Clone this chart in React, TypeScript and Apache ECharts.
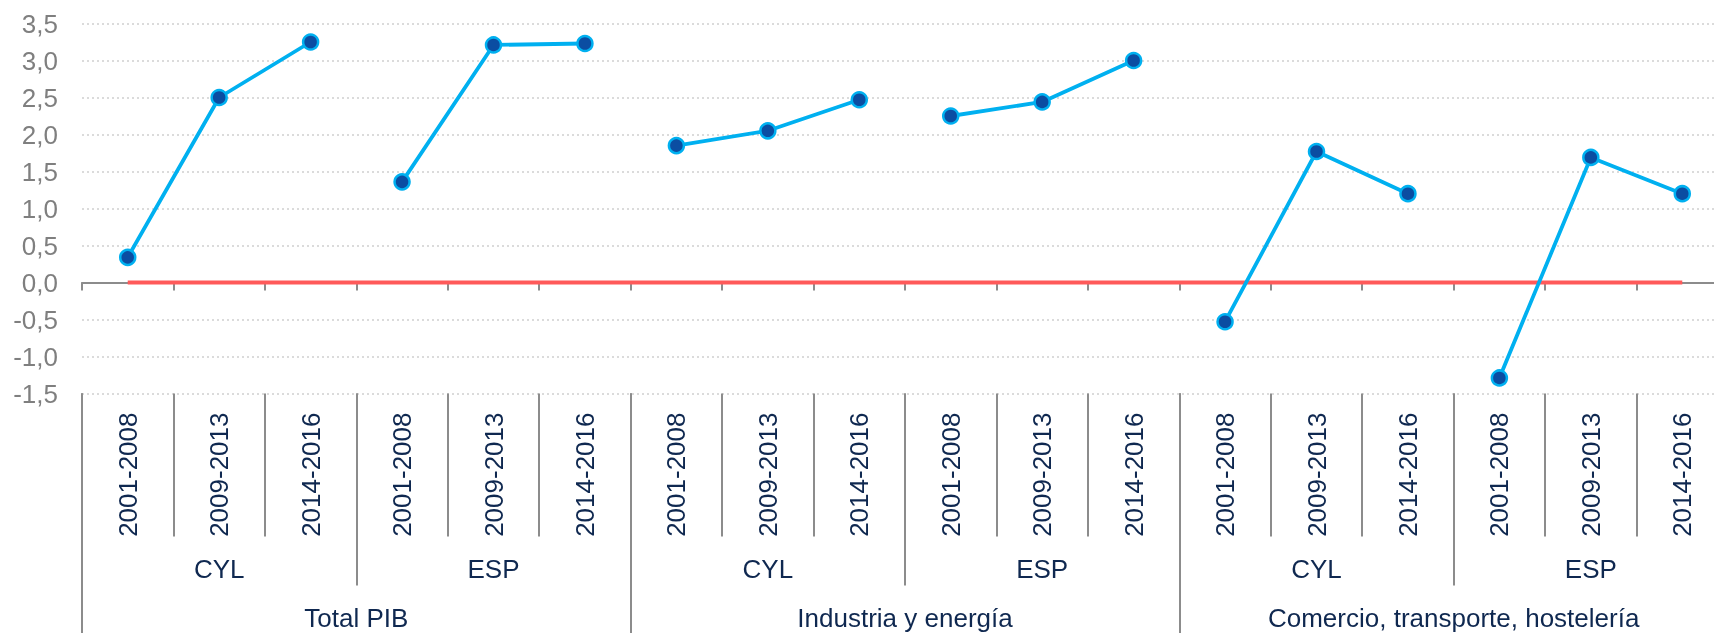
import React, { useEffect, useRef } from "react";
import * as echarts from "echarts";

const periods = ["2001-2008", "2009-2013", "2014-2016"];
const regions = ["CYL", "ESP"];
const sectors = ["Total PIB", "Industria y energía", "Comercio, transporte, hostelería"];

const totalPibCyl = [0.34, 2.5, 3.25];
const totalPibEsp = [1.36, 3.21, 3.23];
const industriaCyl = [1.85, 2.05, 2.47];
const industriaEsp = [2.25, 2.44, 3.0];
const comercioCyl = [-0.53, 1.77, 1.2];
const comercioEsp = [-1.29, 1.69, 1.2];

const yTicks = { min: -1.5, max: 3.5, interval: 0.5 };

const groupValues = [totalPibCyl, totalPibEsp, industriaCyl, industriaEsp, comercioCyl, comercioEsp];

const FONT = "'Liberation Sans', Arial, sans-serif";
const NAVY = "#0f2850";
const SEP = "#8c8c8c";

export default function App() {
  const ref = useRef<HTMLDivElement>(null);
  useEffect(() => {
    if (!ref.current) return;
    const chart = echarts.init(ref.current, undefined, { renderer: "svg" });

    const periodCats: string[] = [];
    const regionCats: string[] = [];
    sectors.forEach(() => {
      regions.forEach((r) => {
        regionCats.push(r);
        periods.forEach((p) => periodCats.push(p));
      });
    });
    const n = periodCats.length;

    const blueSeries = groupValues.map((vals, g) => {
      const data: (number | string)[] = new Array(n).fill("-");
      vals.forEach((v, i) => {
        data[g * periods.length + i] = v;
      });
      return {
        type: "line",
        xAxisIndex: 0,
        data,
        z: 4,
        symbol: "circle",
        symbolSize: 15,
        connectNulls: false,
        lineStyle: { color: "#00B0F0", width: 3.8 },
        itemStyle: { color: "#0B4DA2", borderColor: "#00B0F0", borderWidth: 2.5 },
        silent: true,
      };
    });

    const option: any = {
      animation: false,
      textStyle: { fontFamily: FONT },
      grid: { left: 82, top: 23.5, width: 1646, height: 370, containLabel: false, outerBoundsMode: "none" },
      xAxis: [
        {
          type: "category",
          data: periodCats,
          position: "bottom",
          boundaryGap: true,
          axisLine: { show: false, onZero: false },
          axisTick: { show: true, interval: 0, length: 143, lineStyle: { color: SEP, width: 2 } },
          axisLabel: { interval: 0, rotate: 90, margin: 19, fontSize: 26, color: NAVY, fontFamily: FONT },
          splitLine: { show: false },
        },
        {
          type: "category",
          data: periodCats,
          position: "bottom",
          boundaryGap: true,
          axisLine: { show: true, onZero: true, lineStyle: { color: SEP, width: 2 } },
          axisTick: { show: true, interval: 0, length: 8, lineStyle: { color: SEP, width: 2 } },
          axisLabel: { show: false },
          splitLine: { show: false },
        },
        {
          type: "category",
          data: regionCats,
          position: "bottom",
          boundaryGap: true,
          axisLine: { show: false, onZero: false },
          axisTick: { show: true, interval: 0, length: 192, lineStyle: { color: SEP, width: 2 } },
          axisLabel: { interval: 0, margin: 162, fontSize: 26, color: NAVY, fontFamily: FONT },
          splitLine: { show: false },
        },
        {
          type: "category",
          data: sectors,
          position: "bottom",
          boundaryGap: true,
          axisLine: { show: false, onZero: false },
          axisTick: { show: true, interval: 0, length: 260, lineStyle: { color: SEP, width: 2 } },
          axisLabel: { interval: 0, margin: 211, fontSize: 26, color: NAVY, fontFamily: FONT },
          splitLine: { show: false },
        },
      ],
      yAxis: {
        type: "value",
        min: yTicks.min,
        max: yTicks.max,
        interval: yTicks.interval,
        axisLine: { show: false },
        axisTick: { show: false },
        axisLabel: {
          margin: 24,
          fontSize: 26,
          color: "#7f7f7f",
          fontFamily: FONT,
          formatter: (v: number) => v.toFixed(1).replace(".", ","),
        },
        splitLine: { show: true, lineStyle: { color: "#cfcfcf", width: 1.5, type: [2, 3] } },
      },
      series: [
        {
          type: "line",
          xAxisIndex: 0,
          data: new Array(n).fill(0),
          symbol: "none",
          z: 3,
          lineStyle: { color: "#FF5A5A", width: 4 },
          silent: true,
        },
        ...blueSeries,
      ],
    };
    chart.setOption(option);
    return () => chart.dispose();
  }, []);
  return <div ref={ref} style={{ position: "fixed", left: 0, top: 0, width: 1714, height: 633 }} />;
}
